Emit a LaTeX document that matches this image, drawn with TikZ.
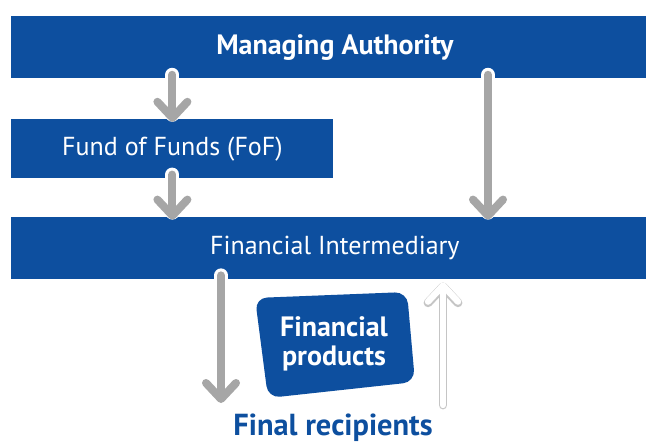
\documentclass[tikz,border=0pt]{standalone}
\usepackage{fontspec}
\setmainfont{PT Sans}
\usetikzlibrary{positioning,arrows.meta}

\definecolor{eublue}{HTML}{0D4F9F}
\definecolor{arrowgray}{HTML}{A6A6A6}

\begin{document}
\begin{tikzpicture}[x=0.5pt, y=-0.5pt, node distance=20pt]
    \tikzset{
        bar/.style = {rectangle, fill=eublue, text=white, inner sep=0pt, minimum height=31pt, font=\fontsize{13}{15}\selectfont},
        tip/.style = {-{Straight Barb[length=8pt, width=15pt, line cap=round, line join=round]}},
        flow/.style = {tip, draw=arrowgray, line width=4pt, line cap=round,
                       preaction={tip, draw=white, line width=7pt, line cap=round}},
        back/.style = {tip, draw=white, line width=3.2pt, line cap=round,
                       preaction={tip, draw=arrowgray!65, line width=4.4pt, line cap=round}}
    }
    \fill[white] (0,0) rectangle (646,442);
    \useasboundingbox (0,0) rectangle (646,442);

    % the three bars
    \node (ma) [bar, minimum width=323.5pt, anchor=north west, font=\fontsize{14}{16}\selectfont\bfseries] at (11,16) {Managing Authority};
    \node (fof) [bar, minimum width=161pt, minimum height=29.5pt, below=20pt of ma.south west, anchor=north west] {Fund of Funds (FoF)};
    \node (fi) [bar, minimum width=323.5pt, below=19pt of fof.south west, anchor=north west] {Financial Intermediary};

    % card and bottom label
    \fill[eublue, rounded corners=6pt] (255,298) -- (407,292) -- (415,382) -- (268,398) -- cycle;
    \node (fp) [text=white, align=center, font=\fontsize{14}{14.5}\selectfont\bfseries] at (334,344) {Financial\\products};
    \node (fr) [text=eublue, font=\fontsize{15.2}{17}\selectfont\bfseries] at (333,428) {Final recipients};

    % columns of the arrows
    \coordinate (colb) at (488,0);
    \coordinate (down) at (221,403);
    \coordinate (up) at (443,405);

    \draw [flow] ([yshift=2pt]fof.north |- ma.south) -- ([yshift=-1.5pt]fof.north);
    \draw [flow] ([yshift=2pt]ma.south -| colb) -- ([yshift=-1.5pt]fi.north -| colb);
    \draw [flow] ([yshift=2pt]fof.south) -- ([yshift=-1.5pt]fi.north -| fof.south);
    \draw [flow] ([yshift=2pt]fi.south -| down) -- (down);
    \draw [back] (up) -- ([yshift=-1.5pt]fi.south -| up);
\end{tikzpicture}
\end{document}
